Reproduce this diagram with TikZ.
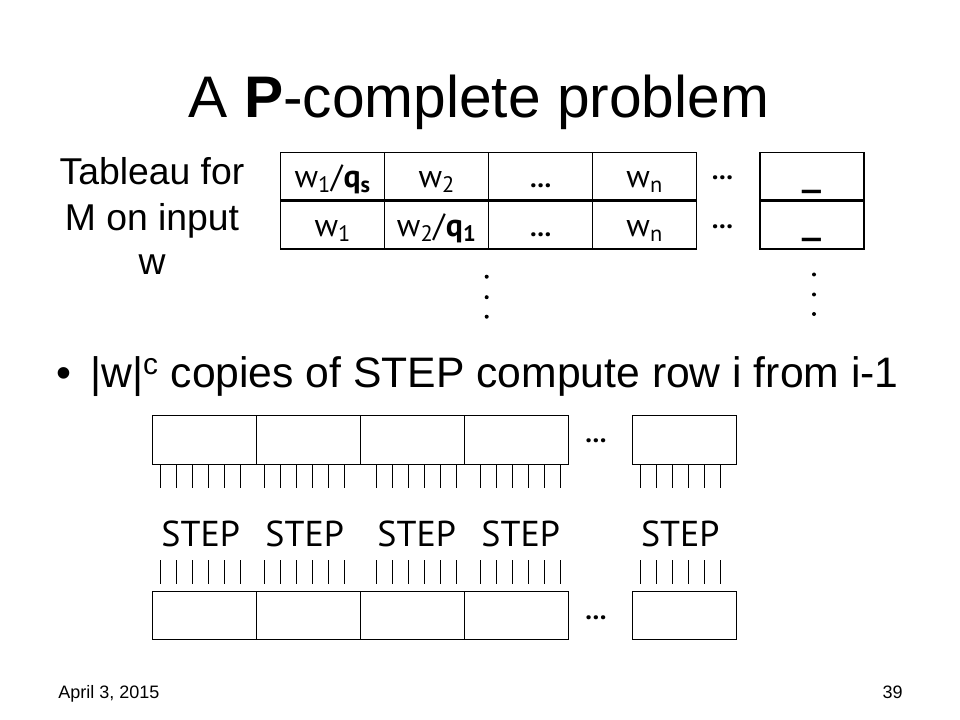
\documentclass[tikz,border=0pt]{standalone}
\usepackage{fontspec}
\setmainfont{Liberation Sans}
\newfontfamily\comic{PT Sans}
\begin{document}
\begin{tikzpicture}[x=0.75pt,y=-0.75pt,
  cell/.style={draw, line width=0.8pt, inner sep=0pt, outer sep=0pt, minimum width=78pt, minimum height=36pt},
  wbox/.style={draw, line width=0.8pt, inner sep=0pt, outer sep=0pt, minimum width=78pt, minimum height=36.5pt},
  ctext/.style={anchor=base, inner sep=0pt, font=\comic\fontsize{24}{28}\selectfont},
  dotstxt/.style={anchor=base, inner sep=0pt, font=\comic\bfseries\fontsize{20}{24}\selectfont},
  steplbl/.style={anchor=base, inner sep=0pt, font=\comic\fontsize{27}{30}\selectfont},
  wire/.style={line width=0.7pt},
  vdot/.style={fill=black, circle, inner sep=0pt, minimum size=3pt},
  bigtxt/.style={anchor=base, inner sep=0pt, font=\fontsize{28}{33.75}\selectfont},
]
\useasboundingbox (0,0) rectangle (960,720);
\fill[white] (0,0) rectangle (960,720);

% title
\node[anchor=base, inner sep=0pt, font=\fontsize{44}{52}\selectfont] (title) at (479,118) {A \textbf{P}-complete problem};

% tableau label
\node[bigtxt] (lab1) at (152,185) {Tableau for};
\node[bigtxt] (lab2) at (152,230.7) {M on input};
\node[bigtxt] (lab3) at (152,275) {w};

% tableau cells
\node[cell] (c11) at (332.7,176.6) {};
\node[cell] (c12) at (436.7,176.6) {};
\node[cell] (c13) at (540.7,176.6) {};
\node[cell] (c14) at (644.7,176.6) {};
\node[cell] (c21) at (332.7,225) {};
\node[cell] (c22) at (436.7,225) {};
\node[cell] (c23) at (540.7,225) {};
\node[cell] (c24) at (644.7,225) {};
\node[cell] (r1) at (812,176.6) {};
\node[cell] (r2) at (812,225) {};
\draw[line width=1.8pt] (c11.south west) -- (c14.south east);
\draw[line width=1.8pt] (r1.south west) -- (r1.south east);

% cell texts
\node[ctext] (t11) at (332.7,188) {w\textsubscript{1}/\textbf{q\textsubscript{s}}};
\node[ctext] (t12) at (436.7,188) {w\textsubscript{2}};
\node[dotstxt] (t13) at (540.7,188) {…};
\node[ctext] (t14) at (644.7,188) {w\textsubscript{n}};
\node[ctext] (t21) at (332.7,236.5) {w\textsubscript{1}};
\node[ctext] (t22) at (436.7,236.5) {w\textsubscript{2}/\textbf{q\textsubscript{1}}};
\node[dotstxt] (t23) at (540.7,236.5) {…};
\node[ctext] (t24) at (644.7,236.5) {w\textsubscript{n}};
\node[dotstxt] (e1) at (722.5,180) {…};
\node[dotstxt] (e2) at (722.5,228.5) {…};
\node[ctext] (u1) at (811.5,186.5) {\scalebox{1.35}[1]{\textbf{\_}}};
\node[ctext] (u2) at (811.5,234.5) {\scalebox{1.35}[1]{\textbf{\_}}};

% vertical dots
\node[vdot] (d1) at (486.7,276.7) {};
\node[vdot] (d2) at (486.7,297.2) {};
\node[vdot] (d3) at (486.7,316.7) {};
\node[vdot] (d4) at (814,274.5) {};
\node[vdot] (d5) at (814,294.5) {};
\node[vdot] (d6) at (814,314) {};

% bullet
\node[anchor=base west, inner sep=0pt, font=\fontsize{32}{38}\selectfont] (bul) at (56,387) {•};
\node[anchor=base west, inner sep=0pt, font=\fontsize{32}{38}\selectfont] (btxt) at (90,387) {|w|\textsuperscript{c} copies of STEP compute row i from i-1};

% upper boxes
\node[wbox] (a1) at (204.3,439.7) {};
\node[wbox] (a2) at (308.4,439.7) {};
\node[wbox] (a3) at (412.5,439.7) {};
\node[wbox] (a4) at (516.6,439.7) {};
\node[wbox] (a5) at (684.3,439.7) {};
% lower boxes
\node[wbox, minimum height=36.2pt] (b1) at (204.3,615.8) {};
\node[wbox, minimum height=36.2pt] (b2) at (308.4,615.8) {};
\node[wbox, minimum height=36.2pt] (b3) at (412.5,615.8) {};
\node[wbox, minimum height=36.2pt] (b4) at (516.6,615.8) {};
\node[wbox, minimum height=36.2pt] (b5) at (684.3,615.8) {};

% ellipses between boxes
\node[dotstxt] (ea) at (596,442) {…};
\node[dotstxt] (eb) at (596,619) {…};

% wires
\foreach \g in {160.7,264.7,376.7,480.7,640.3}{
  \foreach \k in {0,...,5}{
    \draw[wire] (\g+16*\k,464.3) -- (\g+16*\k,488.3);
    \draw[wire] (\g+16*\k,560) -- (\g+16*\k,584.3);
  }
}

% STEP labels
\node[steplbl] (s1) at (200.7,546.7) {STEP};
\node[steplbl] (s2) at (304.7,546.7) {STEP};
\node[steplbl] (s3) at (416.7,546.7) {STEP};
\node[steplbl] (s4) at (520.7,546.7) {STEP};
\node[steplbl] (s5) at (680.3,546.7) {STEP};

% footer
\node[anchor=base west, inner sep=0pt, font=\fontsize{13.5}{16}\selectfont] (date) at (58,698) {April 3, 2015};
\node[anchor=base east, inner sep=0pt, font=\fontsize{13.5}{16}\selectfont] (pg) at (903,698) {39};
\end{tikzpicture}
\end{document}
